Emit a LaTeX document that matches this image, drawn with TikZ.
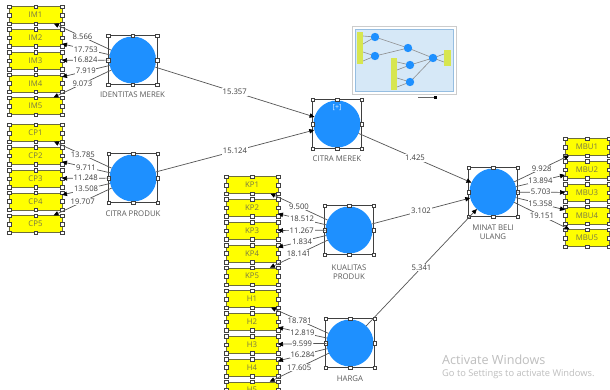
\documentclass[tikz,border=0pt]{standalone}
\usepackage{fontspec}
\setmainfont{Open Sans}
\usetikzlibrary{arrows.meta}

\definecolor{lvblue}{RGB}{30,144,255}
\definecolor{indyel}{RGB}{255,255,0}
\definecolor{indedge}{RGB}{110,110,60}
\definecolor{indtext}{RGB}{120,120,70}
\definecolor{edgegray}{RGB}{85,85,85}
\definecolor{valtext}{RGB}{60,60,60}
\definecolor{lvtext}{RGB}{90,90,90}
\definecolor{thumbblue}{RGB}{214,232,247}
\definecolor{thumbedge}{RGB}{150,190,225}
\definecolor{thumbyel}{RGB}{215,230,80}
\definecolor{watermark}{RGB}{190,190,190}

\tikzset{
  lv/.style={circle, fill=lvblue, minimum size=47pt, inner sep=0pt, outer sep=0pt},
  frm/.style={rectangle, draw=black!75, line width=0.4pt, minimum size=49pt, inner sep=0pt, outer sep=0pt},
  ind/.style={rectangle, fill=indyel, draw=indedge, line width=0.4pt,
              minimum width=#1, minimum height=17pt, inner sep=0pt, outer sep=0pt,
              text=indtext, font=\fontsize{7.8}{8}\selectfont},
  ind/.default=53pt,
  hnd/.style={fill=white, draw=black!75, line width=0.4pt},
  conn/.style={draw=edgegray, line width=0.7pt, -{Triangle[length=5pt,width=4.5pt,color=black]}},
  val/.style={fill=white, inner sep=0.8pt, text=valtext, font=\fontsize{7.7}{8}\selectfont},
  lvlabel/.style={text=lvtext, font=\fontsize{7.8}{9.5}\selectfont, align=center},
}

% selection handles at the eight anchors of a node
\newcommand\selhandles[1]{%
  \foreach \a in {north west,north,north east,east,south east,south,south west,west}{%
    \draw[hnd] (#1.\a) ++(-1.8,-1.8) rectangle ++(3.6,3.6);}}

\begin{document}
\begin{tikzpicture}[x=1pt,y=-1pt]
\useasboundingbox (0,0) rectangle (610,389);
\clip (0,0) rectangle (610,389);
\fill[white] (0,0) rectangle (610,389);

% ---------- indicators ----------
\foreach \i/\y in {1/15,2/37.75,3/60.5,4/83.25,5/106}{
  \node[ind] (IM\i) at (35.5,\y) {IM\i};}
\foreach \i/\y in {1/133,2/155.75,3/178.5,4/201.25,5/224}{
  \node[ind] (CP\i) at (35.5,\y) {CP\i};}
\foreach \i/\y in {1/185,2/207.8,3/230.6,4/253.4,5/276.2}{
  \node[ind=52pt] (KP\i) at (252,\y) {KP\i};}
\foreach \i/\y in {1/299,2/321.8,3/344.6,4/367.4,5/390.2}{
  \node[ind=52pt] (H\i) at (252,\y) {H\i};}
\foreach \i/\y in {1/147,2/169.75,3/192.5,4/215.25,5/238}{
  \node[ind=44pt] (MBU\i) at (587,\y) {MBU\i};}

\foreach \n in {IM1,IM2,IM3,IM4,IM5,CP1,CP2,CP3,CP4,CP5,KP1,KP2,KP3,KP4,KP5,H1,H2,H3,H4,H5,MBU1,MBU2,MBU3,MBU4,MBU5}{
  \selhandles{\n}}

% ---------- latent variables ----------
\node[lv] (IDM) at (132.5,60) {};
\node[lv] (CPR) at (133,178) {};
\node[lv] (CMR) at (337,124) {};
\node[lv] (KPR) at (349,230) {};
\node[lv] (HRG) at (350,343) {};
\node[lv] (MBU) at (493,192) {};

\node[frm] (IDMf) at (IDM) {};
\node[frm] (CPRf) at (CPR) {};
\node[frm] (CMRf) at (CMR) {};
\node[frm] (KPRf) at (KPR) {};
\node[frm] (HRGf) at (HRG) {};
\node[frm] (MBUf) at (MBU) {};
\foreach \n in {IDMf,CPRf,CMRf,KPRf,HRGf,MBUf}{\selhandles{\n}}

\node[text=white!85!lvblue, font=\fontsize{7}{8}\selectfont] (plus) at (337,108) {[+]};

\node[lvlabel] (IDMl) at (132.5,95) {IDENTITAS MEREK};
\node[lvlabel] (CPRl) at (133,214) {CITRA PRODUK};
\node[lvlabel] (CMRl) at (337,159) {CITRA MEREK};
\node[lvlabel] (KPRl) at (349,272) {KUALITAS\\PRODUK};
\node[lvlabel] (HRGl) at (350,379) {HARGA};
\node[lvlabel] (MBUl) at (493,232) {MINAT BELI\\ULANG};

% ---------- outer loadings ----------
\foreach \i/\v in {1/8.566,2/17.753,3/16.824,4/7.919,5/9.073}{
  \draw[conn] (IDM) -- node[val] {\v} (IM\i);}
\foreach \i/\v in {1/13.785,2/9.711,3/11.248,4/13.508,5/19.707}{
  \draw[conn] (CPR) -- node[val] {\v} (CP\i);}
\foreach \i/\v in {1/9.500,2/18.512,3/11.267,4/1.834,5/18.141}{
  \draw[conn] (KPR) -- node[val] {\v} (KP\i);}
\foreach \i/\v in {1/18.781,2/12.819,3/9.599,4/16.284,5/17.605}{
  \draw[conn] (HRG) -- node[val] {\v} (H\i);}
\foreach \i/\v in {1/9.928,2/13.894,3/5.703,4/15.358,5/19.151}{
  \draw[conn] (MBU) -- node[val] {\v} (MBU\i);}

% ---------- inner model ----------
\draw[conn] (IDM) -- node[val] {15.357} (CMR);
\draw[conn] (CPR) -- node[val] {15.124} (CMR);
\draw[conn] (CMR) -- node[val] {1.425} (MBU);
\draw[conn] (KPR) -- node[val] {3.102} (MBU);
\draw[conn] (HRG) -- node[val] {5.341} (MBU);

% ---------- overview thumbnail ----------
\draw[draw=black!20, fill=white] (352,26) rectangle (456,94);
\draw[draw=thumbedge, fill=thumbblue, line width=0.6pt] (355,29) rectangle (453,91);
\begin{scope}[draw=black!45, line width=0.6pt]
  \draw (375,37) -- (408,48) -- (433,58);
  \draw (375,56) -- (408,48);
  \draw (410,65) -- (433,58) -- (410,82);
  \draw (363,36) -- (375,37) -- (363,44);
  \draw (363,52) -- (375,56) -- (363,61);
  \draw (397,62) -- (410,65) -- (397,70);
  \draw (397,78) -- (410,82) -- (397,87);
  \draw (433,58) -- (444,54);
  \draw (433,58) -- (444,62);
\end{scope}
\fill[thumbyel] (357,32) rectangle (363,64);
\fill[thumbyel] (391,58) rectangle (397,90);
\fill[thumbyel] (444,50) rectangle (451,66);
\foreach \cx/\cy in {375/37,375/56,408/48,410/65,410/82,433/58}{
  \fill[lvblue] (\cx,\cy) circle (4.2);}
\draw[black!60, line width=0.6pt] (418,97) -- (434,97);
\fill[black] (434,95.5) rectangle (437,98.5);

% ---------- watermark ----------
\node[text=watermark, font=\fontsize{12.6}{13}\selectfont, anchor=west, inner sep=0pt] (wm1) at (442,360) {Activate Windows};
\node[text=watermark, font=\fontsize{9.3}{10}\selectfont, anchor=west, inner sep=0pt] (wm2) at (442,374) {Go to Settings to activate Windows.};
\end{tikzpicture}
\end{document}
